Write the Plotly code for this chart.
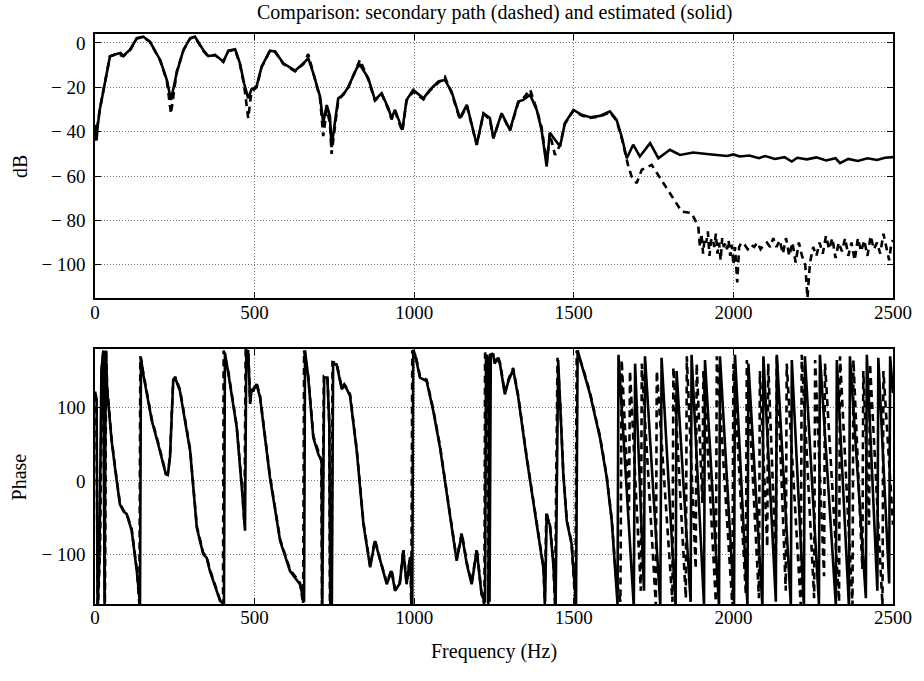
import plotly.graph_objects as go

# magnitude, estimated path (solid)  (Hz, dB)
mag_est_pts = [(0,-42),(3,-37),(5,-44),(8,-38),(15,-30),(31,-18),(47,-6),(68,-5),(80,-4.5),(89,-5.9),
    (110,-3),(131,2.1),(151,2.8),(172,0.6),(204,-7.7),(225,-16.7),(238,-25.7),(256,-13.5),(277,-3.2),
    (298,2.1),(313,2.8),(339,-3.2),(355,-6),(376,-5.4),(402,-8.4),(418,-3.5),(439,-2.9),(454,-9.2),
    (467,-18.2),(480,-25),(490,-21),(506,-19.7),(522,-10.7),(548,-3.5),(564,-3.9),(590,-9.2),(627,-12.5),
    (653,-9.2),(668,-6.9),(684,-13.7),(705,-24.2),(715,-36),(726,-28),(736,-33),(741,-47),(762,-25),
    (778,-23.4),(794,-19.7),(820,-11.4),(830,-9.9),(856,-15.9),(877,-25.7),(898,-22.7),(919,-29.4),
    (929,-33.9),(940,-30.2),(963,-39.2),(976,-25.7),(997,-21.2),(1029,-25),(1049,-21.2),(1076,-17.4),
    (1096,-16.7),(1117,-21.9),(1143,-33.9),(1165,-27.9),(1196,-45.9),(1217,-31.7),(1237,-33.9),(1248,-42.9),
    (1274,-31.7),(1300,-39.2),(1326,-26.4),(1342,-25.7),(1363,-23.4),(1384,-30.2),(1399,-39.2),(1415,-55.7),
    (1425,-40.5),(1441,-43.7),(1457,-46.7),(1472,-36.2),(1499,-30.2),(1525,-32.4),(1551,-33.5),(1582,-32.9),
    (1613,-30.9),(1634,-34.7),(1650,-42.2),(1666,-52),(1686,-45.9),(1707,-51.2),(1739,-45.2),(1765,-52),
    (1801,-48.2),(1833,-50.5),(1874,-49.4),(1916,-50.1),(1950,-50.5),(1980,-51),(2000,-50.3),(2020,-51.2),
    (2050,-50.8),(2080,-52),(2100,-51),(2130,-52.3),(2160,-51.5),(2183,-53.5),(2200,-51.8),(2230,-52.5),
    (2260,-51.6),(2290,-53),(2320,-52),(2334,-54.2),(2360,-52.3),(2390,-53.2),(2420,-52),(2450,-52.8),
    (2475,-51.8),(2500,-51.5)]

# magnitude, secondary path (dashed)
mag_sec_pts = [(0,-44),(5,-40),(15,-30),(31,-18),(47,-6),(68,-5),(89,-6),(110,-3.3),(131,2),(151,2.6),
    (172,0.5),(204,-8),(225,-17),(238,-32),(256,-13),(277,-3.4),(298,2),(313,2.6),(339,-3.5),(355,-6.2),
    (376,-5.5),(402,-8.6),(418,-3.6),(439,-3),(454,-9.5),(467,-19),(480,-34),(490,-22),(506,-20),(522,-11),
    (548,-3.6),(564,-4),(590,-9.5),(627,-12.8),(653,-9.5),(668,-5),(684,-14),(705,-25),(715,-42),(726,-30),
    (736,-36),(741,-50),(762,-26),(778,-23),(794,-20),(820,-11),(830,-7.6),(856,-16.5),(877,-26),(898,-23),
    (919,-30),(929,-34.5),(940,-31),(963,-40),(976,-26),(997,-22),(1029,-25.5),(1049,-21.5),(1076,-17.8),
    (1096,-15.3),(1117,-22.5),(1143,-34.5),(1165,-28.5),(1196,-46),(1217,-32),(1237,-34.5),(1248,-43),
    (1274,-32),(1300,-39.5),(1326,-27),(1342,-25),(1363,-21),(1384,-30),(1399,-38),(1415,-54),(1425,-41),
    (1441,-50.5),(1457,-46),(1472,-36.5),(1499,-30.5),(1525,-32.8),(1551,-33.8),(1582,-33.2),(1613,-31.2),
    (1634,-35),(1650,-43),(1671,-55.7),(1681,-60.2),(1697,-63.2),(1713,-57.2),(1744,-55),(1780,-63.2),
    (1812,-70.7),(1838,-76),(1869,-76.7),(1890,-82.7),(1895,-92),(1900,-86),(1905,-95),(1910,-88),
    (1915,-90),(1920,-85),(1925,-96),(1930,-89),(1935,-88),(1940,-92),(1945,-86),(1950,-95),(1955,-90),
    (1960,-98),(1965,-88),(1970,-92),(1975,-90),(1980,-93),(1985,-89),(1990,-96),(1995,-91),(2000,-100),
    (2005,-92),(2012,-108),(2018,-92),(2025,-90),(2035,-91),(2045,-93),(2055,-91),(2065,-92),(2075,-90),
    (2085,-93),(2095,-91),(2105,-90),(2115,-92),(2125,-88),(2135,-92),(2145,-89),(2155,-95),(2165,-88),
    (2175,-96),(2185,-90),(2195,-99),(2205,-90),(2215,-96),(2225,-100),(2232,-115),(2240,-99),(2250,-92),
    (2260,-96),(2270,-90),(2280,-95),(2290,-87),(2300,-93),(2310,-88),(2320,-97),(2330,-90),(2340,-94),
    (2350,-88),(2360,-96),(2370,-90),(2380,-98),(2390,-88),(2400,-94),(2410,-89),(2420,-96),(2430,-87),
    (2440,-93),(2450,-90),(2460,-95),(2470,-86),(2480,-92),(2488,-98),(2495,-90),(2500,-89)]

# phase, estimated path (solid)  (Hz, degrees)
ph_est_pts = [(0,122),(5,112),(8,-176),(14,-100),(20,150),(26,178),(30,-170),(34,178),(38,125),(52,55),
    (65,10),(78,-32),(90,-42),(99,-45),(115,-68),(131,-123),(141,-168),(144,168),(151,146),(178,82),
    (198,50),(215,20),(222,9),(228,8),(235,32),(245,136),(252,140),(258,132),(266,123),(298,41),(319,-64),
    (339,-100),(350,-105),(360,-123),(392,-164),(404,-168),(407,175),(418,146),(444,73),(462,-20),(470,-68),
    (474,178),(480,177),(486,105),(490,122),(496,123),(506,132),(517,114),(548,5),(580,-82),(611,-123),
    (642,-141),(655,-165),(658,178),(668,141),(684,59),(700,36),(710,27),(712,-168),(718,141),(728,141),
    (734,77),(737,-168),(742,-168),(746,160),(757,159),(773,125),(781,130),(789,125),(799,116),(820,41),
    (841,-59),(862,-118),(877,-82),(893,-109),(914,-141),(929,-123),(940,-150),(955,-140),(966,-95),
    (976,-141),(987,-105),(994,-168),(997,178),(1003,172),(1018,141),(1039,136),(1060,95),(1081,45),
    (1112,-50),(1133,-109),(1149,-73),(1165,-114),(1180,-141),(1196,-95),(1211,-155),(1222,-166),(1225,172),
    (1232,168),(1236,-165),(1240,170),(1248,172),(1252,160),(1262,168),(1269,159),(1284,118),(1295,136),
    (1310,152),(1326,114),(1352,32),(1373,-27),(1394,-86),(1405,-120),(1410,-165),(1415,-45),(1420,-55),
    (1425,-60),(1436,-115),(1443,-170),(1451,165),(1458,100),(1467,10),(1478,-55),(1493,-86),(1507,-168),
    (1512,178),(1530,150),(1551,118),(1582,59),(1603,5),(1619,-55),(1632,-132),(1637,-168),(1640,172),
    (1688,-172),(1692,160),(1720,-150),(1723,170),(1771,-170),(1775,168),(1819,-172),(1822,150),(1866,-165),
    (1869,172),(1908,-170),(1911,165),(1955,-172),(1958,170),(2002,-168),(2005,172),(2044,-170),(2047,160),
    (2091,-172),(2094,170),(2133,-165),(2136,172),(2180,-170),(2183,165),(2221,-172),(2224,170),(2268,-168),
    (2271,172),(2321,-170),(2324,165),(2362,-172),(2365,170),(2415,-160),(2418,172),(2451,-150),(2454,168),
    (2488,-140),(2491,170),(2500,120)]

# phase, secondary path (dashed)
ph_sec_pts = [(0,118),(4,108),(9,-178),(16,-90),(22,160),(27,178),(31,-175),(35,178),(38,128),(52,57),
    (65,12),(78,-30),(90,-41),(99,-44),(115,-66),(131,-121),(139,-168),(142,170),(151,148),(178,84),
    (198,52),(215,22),(222,10),(228,9),(235,34),(245,138),(252,142),(258,134),(266,125),(298,43),(319,-62),
    (339,-98),(350,-104),(360,-121),(392,-163),(401,-170),(403,178),(418,148),(444,75),(462,-18),(468,-60),
    (472,178),(480,178),(486,107),(490,124),(496,125),(506,134),(517,116),(548,7),(580,-80),(611,-121),
    (642,-139),(652,-168),(655,178),(668,143),(684,61),(700,38),(709,28),(711,-170),(717,143),(728,143),
    (734,79),(736,-170),(741,-170),(744,162),(757,161),(773,127),(781,132),(789,127),(799,118),(820,43),
    (841,-57),(862,-116),(877,-80),(893,-107),(914,-139),(929,-121),(940,-148),(955,-138),(966,-93),
    (976,-139),(987,-103),(991,-170),(994,178),(1003,174),(1018,143),(1039,138),(1060,97),(1081,47),
    (1112,-48),(1133,-107),(1149,-71),(1165,-112),(1180,-139),(1196,-93),(1211,-153),(1220,-170),(1222,175),
    (1229,170),(1232,-168),(1237,172),(1248,174),(1252,162),(1262,170),(1269,161),(1284,120),(1295,138),
    (1310,154),(1326,116),(1352,34),(1373,-25),(1394,-84),(1405,-118),(1409,-168),(1414,-42),(1420,-53),
    (1425,-58),(1436,-113),(1441,-170),(1449,168),(1458,102),(1467,12),(1478,-53),(1493,-84),(1505,-170),
    (1509,178),(1530,152),(1551,120),(1582,61),(1603,7),(1619,-53),(1632,-130),(1646,-165),(1650,165),
    (1673,-40),(1676,150),(1710,-150),(1713,160),(1757,-170),(1760,150),(1809,-165),(1812,155),(1851,-160),
    (1854,170),(1882,-120),(1885,160),(1903,-30),(1906,150),(1945,-165),(1948,170),(1997,-172),(2000,160),
    (2039,-155),(2042,165),(2080,-160),(2083,150),(2106,-90),(2109,160),(2133,-110),(2136,170),(2164,-150),
    (2167,160),(2211,-170),(2214,172),(2253,-160),(2256,165),(2284,-130),(2287,160),(2331,-165),(2334,170),
    (2373,-170),(2376,165),(2404,-120),(2407,150),(2425,-60),(2428,160),(2467,-170),(2470,150),(2500,-60)]

freq_ticks = [0, 500, 1000, 1500, 2000, 2500]
db_ticks = [0, -20, -40, -60, -80, -100]
ph_ticks = [-100, 0, 100]

FONT = "Liberation Serif, Times New Roman, serif"
DASH = "7px,5px"


def lab(v):
    return "\u2212 " + str(-v) if v < 0 else str(v)


fig = go.Figure()

for pts, dash, xa, ya in [(mag_sec_pts, DASH, "x", "y"), (mag_est_pts, "solid", "x", "y"),
                          (ph_sec_pts, DASH, "x2", "y2"), (ph_est_pts, "solid", "x2", "y2")]:
    f, v = zip(*pts)
    fig.add_trace(go.Scatter(x=list(f), y=list(v), mode="lines", xaxis=xa, yaxis=ya,
                             line=dict(color="black", width=2.6, dash=dash), showlegend=False))

axis_common = dict(showline=True, linecolor="black", linewidth=1.6, mirror="ticks",
                   ticks="inside", ticklen=6, tickwidth=1, tickcolor="black",
                   showgrid=True, gridcolor="#777", gridwidth=1, griddash="1px,2px",
                   zeroline=False, tickfont=dict(family=FONT, size=19, color="black"))

top_dom = [0.5368, 1.0]
bot_dom = [0.0, 0.4474]

fig.update_layout(
    width=924, height=681,
    margin=dict(l=95, r=31, t=34, b=77),
    paper_bgcolor="white", plot_bgcolor="white",
    xaxis=dict(axis_common, domain=[0, 1], anchor="y", range=[0, 2500],
               tickvals=freq_ticks, ticklabelstandoff=-4),
    yaxis=dict(axis_common, domain=top_dom, anchor="x", range=[-115, 4],
               tickvals=db_ticks, ticktext=[lab(v) for v in db_ticks], ticklabelstandoff=4),
    xaxis2=dict(axis_common, domain=[0, 1], anchor="y2", range=[0, 2500],
                tickvals=freq_ticks, ticklabelstandoff=-5),
    yaxis2=dict(axis_common, domain=bot_dom, anchor="x2", range=[-168, 180],
                tickvals=ph_ticks, ticktext=[lab(v) for v in ph_ticks], ticklabelstandoff=4),
    annotations=[
        dict(text="Comparison: secondary path (dashed) and estimated (solid)", xref="paper", yref="paper",
             x=0.5, y=1.037, xanchor="center", yanchor="middle", showarrow=False,
             font=dict(family=FONT, size=20, color="black")),
        dict(text="dB", xref="paper", yref="paper", x=-0.094, y=(top_dom[0] + top_dom[1]) / 2,
             xanchor="center", yanchor="middle", textangle=-90, showarrow=False,
             font=dict(family=FONT, size=20, color="black")),
        dict(text="Phase", xref="paper", yref="paper", x=-0.094, y=(bot_dom[0] + bot_dom[1]) / 2,
             xanchor="center", yanchor="middle", textangle=-90, showarrow=False,
             font=dict(family=FONT, size=20, color="black")),
        dict(text="Frequency (Hz)", xref="paper", yref="paper", x=0.5, y=-0.084,
             xanchor="center", yanchor="middle", showarrow=False,
             font=dict(family=FONT, size=20, color="black")),
    ],
)

# drop the default page margin so the figure sits at the window's top-left corner
fig.write_html("out.html", config={"displayModeBar": False},
               post_script="document.body.style.margin='0px';")
